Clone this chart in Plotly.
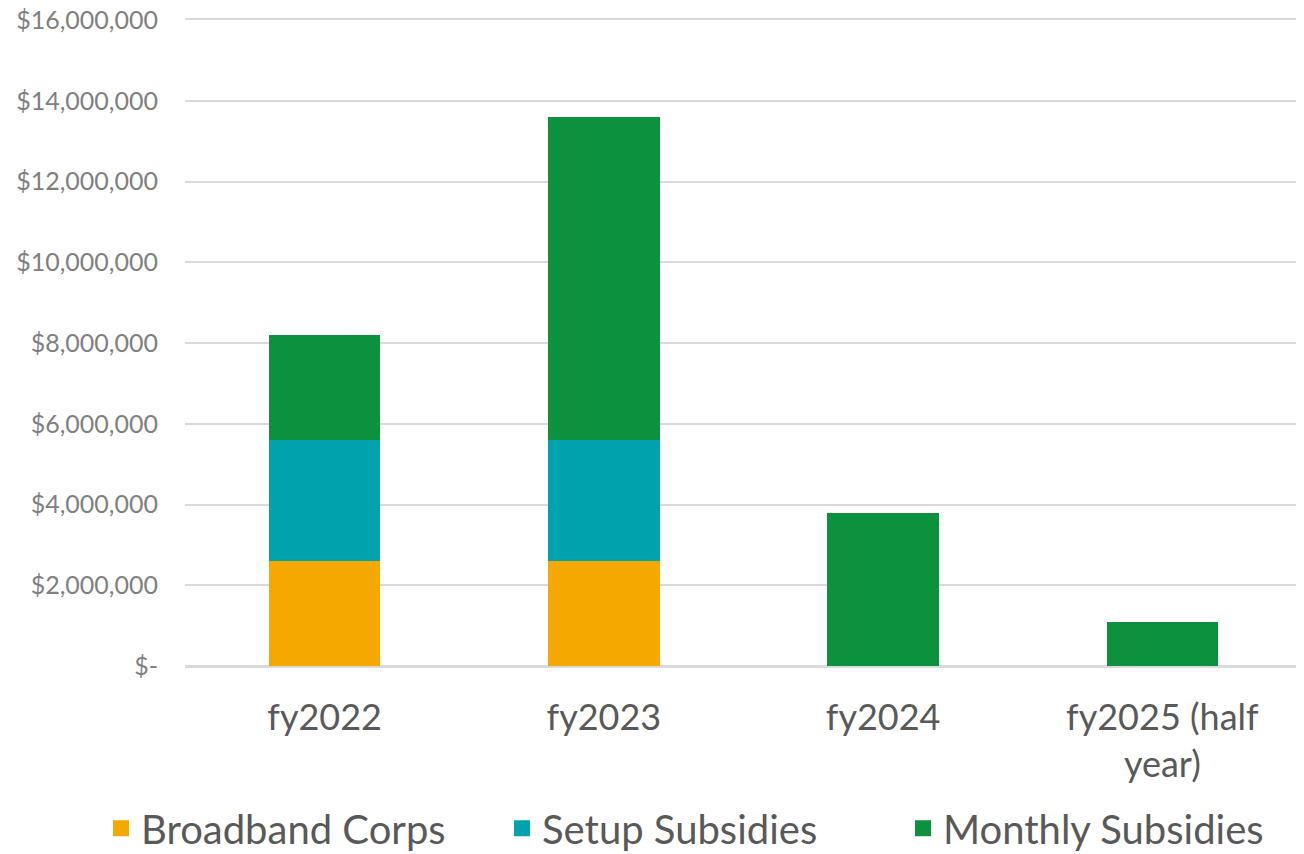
import plotly.graph_objects as go

categories = ["fy2022", "fy2023", "fy2024", "fy2025 (half<br>year)"]
broadband_corps = [2600000, 2600000, 0, 0]
setup_subsidies = [3000000, 3000000, 0, 0]
monthly_subsidies = [2600000, 8000000, 3800000, 1100000]
y_ticks = [0, 2000000, 4000000, 6000000, 8000000, 10000000, 12000000, 14000000, 16000000]

series = [
    ("Broadband Corps", broadband_corps, "#F5A800"),
    ("Setup Subsidies", setup_subsidies, "#00A3AD"),
    ("Monthly Subsidies", monthly_subsidies, "#0C923F"),
]

tick_text = ["$-" if v == 0 else "${:,.0f}".format(v) for v in y_ticks]

fig = go.Figure()
for name, vals, color in series:
    fig.add_trace(go.Bar(x=categories, y=vals, name=name, marker_color=color,
                         marker_line_width=0, showlegend=False))
for name, vals, color in series:
    fig.add_trace(go.Scatter(x=[None], y=[None], mode="markers", name=name,
                             marker=dict(symbol="square", size=22, color=color)))

fig.update_layout(
    barmode="stack",
    bargap=0.6,
    width=1296, height=846,
    margin=dict(l=177, r=2, t=12, b=188, autoexpand=False),
    plot_bgcolor="white", paper_bgcolor="white",
    font=dict(family="Lato", color="#595959"),
    legend=dict(orientation="h", x=-0.0752, xanchor="left", xref="paper",
                y=-0.251, yanchor="middle", yref="paper",
                font=dict(size=40, color="#595959"), itemwidth=30,
                entrywidth=356, entrywidthmode="pixels",
                traceorder="normal", tracegroupgap=0),
)
fig.update_yaxes(range=[0, 16000000], tickvals=y_ticks, ticktext=tick_text,
                 showgrid=True, gridcolor="#D9D9D9", gridwidth=2,
                 zeroline=True, zerolinecolor="#D9D9D9", zerolinewidth=2,
                 tickfont=dict(size=25, color="#7F7F7F"), ticks="",
                 ticklabelstandoff=26, automargin=False, ticklabeloverflow="allow")
fig.update_xaxes(tickfont=dict(size=36, color="#595959"), ticks="",
                 showline=True, mirror=True, linecolor="#D9D9D9", linewidth=2,
                 ticklabelstandoff=19, automargin=False)

fig.write_html("out.html")
